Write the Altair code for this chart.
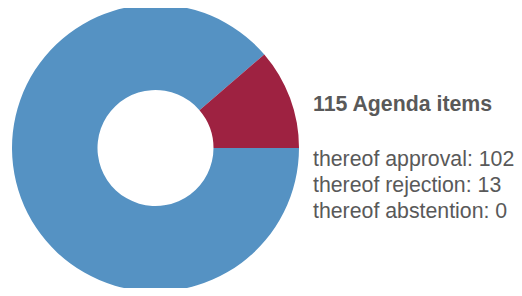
import math
import altair as alt
import pandas as pd

categories = ["approval", "rejection", "abstention"]
values = [102, 13, 0]
colors = ["#5592C3", "#9E2241", "#C8C8C8"]
total = 115
title_text = f"{total} Agenda items"
line_texts = [f"thereof {c}: {v}" for c, v in zip(categories, values)]

arc_df = pd.DataFrame({"category": categories, "value": values, "order": [0, 1, 2]})

W, H = 506, 280
CX, CY = 147.5, 140
R_OUT, R_IN = 143.5, 58

arc = alt.Chart(arc_df).mark_arc(
    outerRadius=R_OUT, innerRadius=R_IN
).encode(
    theta=alt.Theta("value:Q", stack=True, scale=alt.Scale(range=[math.pi / 2, math.pi / 2 + 2 * math.pi])),
    color=alt.Color("category:N", scale=alt.Scale(domain=categories, range=colors), legend=None),
    order=alt.Order("order:Q"),
    x=alt.value(CX),
    y=alt.value(CY),
)

font = "Liberation Sans"
gray = "#595959"

title_df = pd.DataFrame({"t": [title_text]})
title = alt.Chart(title_df).mark_text(
    align="left", baseline="alphabetic", font=font, fontSize=21.3, fontWeight="bold", color=gray
).encode(text="t:N", x=alt.value(305), y=alt.value(103))

layers = [arc, title]
for i, t in enumerate(line_texts):
    d = pd.DataFrame({"t": [t]})
    layers.append(
        alt.Chart(d).mark_text(
            align="left", baseline="alphabetic", font=font, fontSize=21.3, color=gray
        ).encode(text="t:N", x=alt.value(305), y=alt.value(158 + 26 * i))
    )

chart = alt.layer(*layers).properties(
    width=W, height=H, autosize=alt.AutoSizeParams(type="none"), padding=0
).configure_view(stroke=None)

chart.save("out.html", embed_options={"renderer": "svg", "actions": False})
